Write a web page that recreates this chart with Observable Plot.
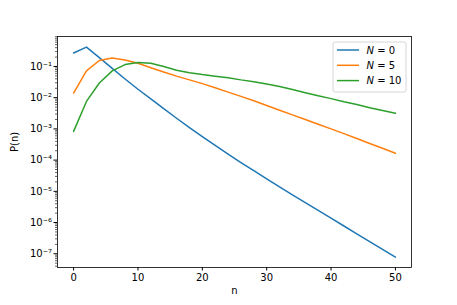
<!DOCTYPE html>
<html>
<head>
<meta charset="utf-8">
<script src="https://cdn.jsdelivr.net/npm/d3@7"></script>
<script src="https://cdn.jsdelivr.net/npm/@observablehq/plot@0.6"></script>
<style>
  html, body { margin: 0; padding: 0; background: white; }
  svg { display: block; }
</style>
</head>
<body>
<div id="chart"></div>
<script>
const nValues = [0,2,4,6,8,10,12,14,16,18,20,22,24,26,28,30,32,34,36,38,40,42,44,46,48,50];
const seriesNames = ["0", "5", "10"];
const pN0 = [0.269,0.417,0.191,0.0871,0.0398,0.0186,9.12e-3,4.47e-3,2.19e-3,1.10e-3,5.62e-4,2.95e-4,1.55e-4,8.32e-5,4.57e-5,2.51e-5,1.38e-5,7.76e-6,4.37e-6,2.45e-6,1.38e-6,7.76e-7,4.37e-7,2.45e-7,1.38e-7,7.76e-8];
const pN5 = [0.0141,0.0724,0.155,0.186,0.162,0.126,0.0912,0.0661,0.0490,0.0372,0.0282,0.0209,0.0151,0.0110,7.94e-3,5.62e-3,3.98e-3,2.82e-3,2.00e-3,1.41e-3,1.00e-3,7.08e-4,4.90e-4,3.39e-4,2.40e-4,1.66e-4];
const pN10 = [8.32e-4,7.59e-3,0.0295,0.0724,0.115,0.135,0.126,0.100,0.0759,0.0631,0.0550,0.0490,0.0437,0.0372,0.0324,0.0275,0.0229,0.0182,0.0145,0.0115,9.33e-3,7.41e-3,6.03e-3,4.79e-3,3.89e-3,3.16e-3];
const colors = ["#1f77b4", "#ff7f0e", "#2ca02c"];
const xTicks = [0,10,20,30,40,50];
const yTicks = [1e-7,1e-6,1e-5,1e-4,1e-3,1e-2,1e-1];
const yDomain = [3.63e-8, 0.912];

const allSeries = [pN0, pN5, pN10];
const data = [];
allSeries.forEach((vals, s) => vals.forEach((p, i) => data.push({n: nValues[i], p, s: seriesNames[s]})));

const sup = {"-":"\u207B","0":"\u2070","1":"\u00B9","2":"\u00B2","3":"\u00B3","4":"\u2074","5":"\u2075","6":"\u2076","7":"\u2077","8":"\u2078","9":"\u2079"};
const fmtPow = d => "10" + String(Math.round(Math.log10(d))).split("").map(c => sup[c]).join("");

const minor = [];
for (let e = -8; e <= 0; e++) for (let m = 2; m <= 9; m++) {
  const v = m * Math.pow(10, e);
  if (v >= yDomain[0] && v <= yDomain[1]) minor.push(v);
}

const chart = Plot.plot({
  width: 457, height: 305,
  marginLeft: 57, marginRight: 46, marginTop: 36, marginBottom: 38,
  style: {fontFamily: "DejaVu Sans", fontSize: "10px", color: "black", background: "white"},
  x: {domain: [-2.5, 52.5]},
  y: {type: "log", domain: yDomain},
  marks: [
    Plot.line(data, {x: "n", y: "p", z: "s", stroke: d => colors[seriesNames.indexOf(d.s)], strokeWidth: 1.5}),
    Plot.frame({stroke: "black", strokeWidth: 0.8}),
    Plot.axisX({ticks: xTicks, tickSize: 3.5, tickPadding: 3, tickFormat: d => String(d), label: null, fontSize: 10}),
    Plot.axisY({ticks: minor, tickSize: 2, tickFormat: () => "", label: null, strokeWidth: 0.6}),
    Plot.axisY({ticks: yTicks, tickSize: 3.5, tickPadding: 2, tickFormat: fmtPow, label: null, fontSize: 10}),
    Plot.text(["n"], {frameAnchor: "bottom", dy: 26, fontSize: 10}),
    Plot.text(["P(n)"], {frameAnchor: "left", rotate: -90, dx: -43, fontSize: 10})
  ]
});
document.getElementById("chart").appendChild(chart);

// legend
const svg = d3.select(chart);
const lg = svg.append("g").attr("font-family", "DejaVu Sans").attr("font-size", 10).attr("text-anchor", "start");
lg.append("rect").attr("x", 333).attr("y", 42).attr("width", 73).attr("height", 50).attr("rx", 2)
  .attr("fill", "white").attr("fill-opacity", 0.8).attr("stroke", "#cccccc").attr("stroke-width", 0.8);
const rowsY = [50, 65.3, 80.6];
seriesNames.forEach((name, i) => {
  lg.append("line").attr("x1", 337).attr("x2", 359).attr("y1", rowsY[i]).attr("y2", rowsY[i])
    .attr("stroke", colors[i]).attr("stroke-width", 1.5);
  const t = lg.append("text").attr("x", 366.5).attr("y", rowsY[i]).attr("dy", "0.35em").attr("fill", "black").attr("text-anchor", "start");
  t.append("tspan").attr("font-style", "italic").text("N");
  t.append("tspan").text(" = " + name);
});
</script>
</body>
</html>
